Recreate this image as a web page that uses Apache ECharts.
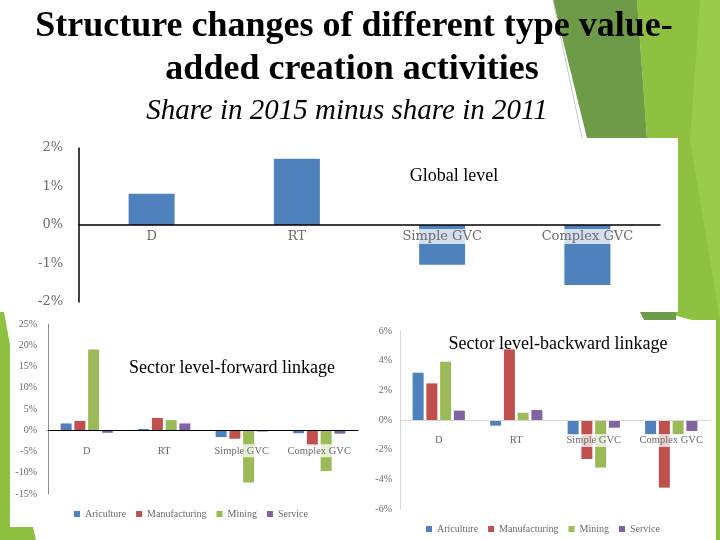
<!DOCTYPE html>
<html>
<head>
<meta charset="utf-8">
<title>Structure changes of different type value-added creation activities</title>
<script src="https://cdn.jsdelivr.net/npm/echarts@6.0.0/dist/echarts.min.js"></script>
<style>
  html, body { margin: 0; padding: 0; background: #fff; }
  #chart { width: 720px; height: 540px; }
</style>
</head>
<body>
<div id="chart"></div>
<script>
// categories and sectors
var categories = ['D', 'RT', 'Simple GVC', 'Complex GVC'];
var sectors = ['Ariculture', 'Manufacturing', 'Mining', 'Service'];
var sectorColors = ['#4F81BD', '#C0504D', '#9BBB59', '#8064A2'];

// global level (%)
var globalShare = [0.81, 1.72, -1.03, -1.56];

// sector level - forward linkage (%), one array per sector
var fwdAgri = [1.6, 0.3, -1.6, -0.7];
var fwdManu = [2.2, 2.9, -2.0, -3.6];
var fwdMining = [19.0, 2.4, -12.3, -9.6];
var fwdService = [-0.6, 1.6, -0.3, -0.8];

// sector level - backward linkage (%)
var bwdAgri = [3.19, -0.38, -1.01, -0.97];
var bwdManu = [2.47, 4.76, -2.63, -4.56];
var bwdMining = [3.93, 0.49, -3.21, -0.97];
var bwdService = [0.63, 0.67, -0.52, -0.74];

var fwdData = [fwdAgri, fwdManu, fwdMining, fwdService];
var bwdData = [bwdAgri, bwdManu, bwdMining, bwdService];

var chart = echarts.init(document.getElementById('chart'));

var serif = 'Liberation Serif';
var labelGray = '#6b6b6b';

var grids = [
    { left: 79, top: 148, width: 581, height: 154 },
    { left: 48, top: 324, width: 310, height: 170 },
    { left: 400, top: 331, width: 310, height: 178 }
];
var yRanges = [[-2, 2, 1], [-15, 25, 5], [-6, 6, 2]];

// category axis drawn on the zero line of its value axis
function xCat(gridIndex, margin, fontSize, family, lineColor, lineWidth) {
    var r = yRanges[gridIndex];
    var zeroOffset = grids[gridIndex].height * (0 - r[0]) / (r[1] - r[0]);
    return {
        type: 'category',
        gridIndex: gridIndex,
        data: categories,
        z: 5,
        offset: -zeroOffset,
        axisTick: { show: false },
        axisLine: { onZero: false, lineStyle: { color: lineColor, width: lineWidth } },
        axisLabel: {
            interval: 0,
            hideOverlap: false,
            margin: margin,
            color: labelGray,
            fontFamily: family,
            fontSize: fontSize,
            backgroundColor: 'rgba(255,255,255,0.75)',
            padding: [1, 2]
        }
    };
}

function yVal(gridIndex, margin, fontSize, family, lineColor, lineWidth) {
    var r = yRanges[gridIndex];
    return {
        type: 'value',
        gridIndex: gridIndex,
        min: r[0],
        max: r[1],
        interval: r[2],
        splitLine: { show: false },
        axisTick: { show: false },
        axisLine: { show: true, lineStyle: { color: lineColor, width: lineWidth } },
        axisLabel: {
            formatter: '{value}%',
            margin: margin,
            color: labelGray,
            fontFamily: family,
            fontSize: fontSize
        }
    };
}

var xAxes = [
    xCat(0, 4, 13, 'DejaVu Serif', '#000', 1.5),
    xCat(1, 14, 10.5, serif, '#000', 1),
    xCat(2, 14, 10.5, serif, '#d9d9d9', 1)
];

var yAxes = [
    yVal(0, 16, 13, 'DejaVu Serif', '#000', 1.5),
    yVal(1, 11, 10, serif, '#8c8c8c', 1),
    yVal(2, 8, 10, serif, '#d9d9d9', 1)
];

var series = [{
    name: 'Global level',
    type: 'bar',
    xAxisIndex: 0,
    yAxisIndex: 0,
    barWidth: 46,
    itemStyle: { color: '#4F81BD' },
    data: globalShare
}];

sectors.forEach(function (name, i) {
    series.push({
        name: name,
        type: 'bar',
        xAxisIndex: 1,
        yAxisIndex: 1,
        barWidth: 11,
        barGap: '25%',
        itemStyle: { color: sectorColors[i] },
        data: fwdData[i]
    });
});
sectors.forEach(function (name, i) {
    series.push({
        name: name,
        type: 'bar',
        xAxisIndex: 2,
        yAxisIndex: 2,
        barWidth: 11,
        barGap: '25%',
        itemStyle: { color: sectorColors[i] },
        data: bwdData[i]
    });
});

function legendAt(left, top) {
    return {
        data: sectors,
        left: left,
        top: top,
        padding: 0,
        icon: 'rect',
        itemWidth: 6,
        itemHeight: 6,
        itemGap: 10,
        selectedMode: false,
        textStyle: { color: labelGray, fontFamily: serif, fontSize: 10 }
    };
}

function label(text, x, y, font) {
    return {
        type: 'text',
        z: 100,
        style: {
            text: text,
            x: x,
            y: y,
            font: font,
            fill: '#000',
            align: 'center',
            verticalAlign: 'middle'
        }
    };
}

var option = {
    backgroundColor: '#fff',
    animation: false,
    grid: grids,
    xAxis: xAxes,
    yAxis: yAxes,
    legend: [legendAt(74, 509), legendAt(426, 524)],
    series: series,
    graphic: [
        // slide decoration
        { type: 'polygon', z: -3, shape: { points: [[637, 0], [720, 0], [720, 540], [712, 540], [692, 320], [662, 312], [647, 138]] }, style: { fill: '#8DC13F' } },
        { type: 'polygon', z: -3, shape: { points: [[700, 0], [720, 0], [720, 320], [690, 140]] }, style: { fill: '#9BCB4A' } },
        { type: 'polygon', z: -3, shape: { points: [[553, 0], [637, 0], [647, 138], [587, 138]] }, style: { fill: '#6D9B48' } },
        { type: 'polygon', z: -3, shape: { points: [[640, 312], [676, 312], [676, 320], [644, 320]] }, style: { fill: '#6D9B48' } },
        { type: 'line', z: -3, shape: { x1: 553, y1: 0, x2: 582, y2: 138 }, style: { stroke: '#c8c8c8', lineWidth: 1 } },
        { type: 'polygon', z: -3, shape: { points: [[0, 312], [4, 312], [10, 345], [10, 527], [33, 527], [36, 540], [0, 540]] }, style: { fill: '#8DC13F' } },
        // chart panels
        { type: 'rect', z: -2, shape: { x: 30, y: 138, width: 648, height: 174 }, style: { fill: '#fff' } },
        { type: 'rect', z: -2, shape: { x: 10, y: 318, width: 358, height: 209 }, style: { fill: '#fff' } },
        { type: 'rect', z: -2, shape: { x: 36, y: 527, width: 332, height: 13 }, style: { fill: '#fff' } },
        { type: 'rect', z: -2, shape: { x: 368, y: 320, width: 348, height: 220 }, style: { fill: '#fff' } },
        // titles
        label('Structure changes of different type value-', 354, 27, 'bold 36px "Liberation Serif"'),
        label('added creation activities', 352, 70, 'bold 36px "Liberation Serif"'),
        label('Share in 2015 minus share in 2011', 347, 111, 'italic 29px "Liberation Serif"'),
        label('Global level', 454, 176, '18px "Liberation Serif"'),
        label('Sector level-forward linkage', 232, 368, '18px "Liberation Serif"'),
        label('Sector level-backward linkage', 558, 344, '18px "Liberation Serif"')
    ]
};

chart.setOption(option);
</script>
</body>
</html>
